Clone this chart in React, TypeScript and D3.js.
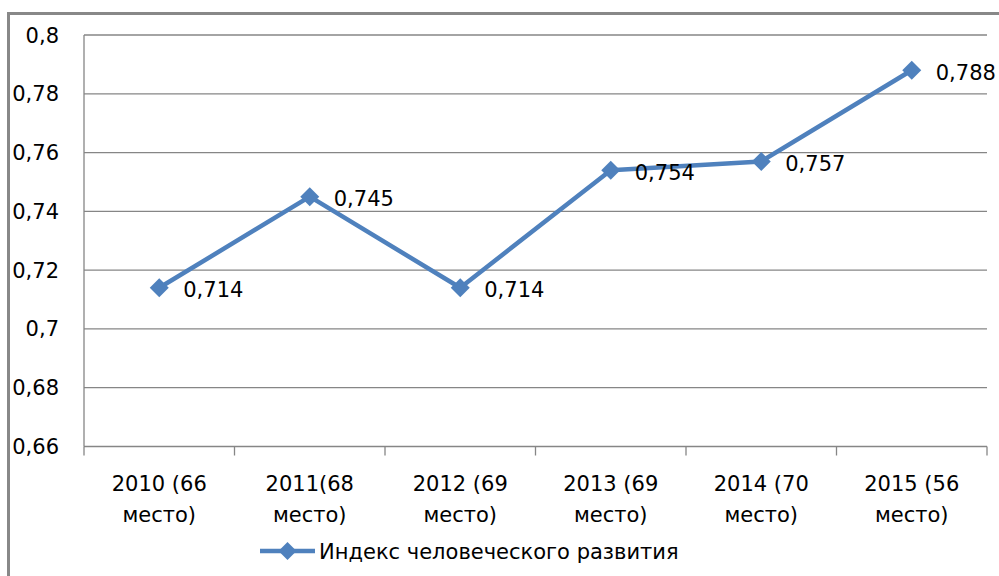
import * as d3 from "d3";

const categories = [
  ["2010 (66", "место)"],
  ["2011(68", "место)"],
  ["2012 (69", "место)"],
  ["2013 (69", "место)"],
  ["2014 (70", "место)"],
  ["2015 (56", "место)"],
];
const values = [0.714, 0.745, 0.714, 0.754, 0.757, 0.788];
const yTicks = [0.66, 0.68, 0.7, 0.72, 0.74, 0.76, 0.78, 0.8];
const seriesName = "Индекс человеческого развития";

const fmt = (v: number) => String(+v.toFixed(3)).replace(".", ",");

const App = () => {
  const width = 999;
  const height = 576;
  const left = 84;
  const right = 987;
  const top = 35;
  const bottom = 446.5;
  const color = "#4f81bd";
  const grid = "#868686";
  const font = "DejaVu Sans";

  const x = d3
    .scaleBand<number>()
    .domain(d3.range(categories.length))
    .range([left, right]);
  const y = d3.scaleLinear().domain([0.66, 0.8]).range([bottom, top]);

  const line = d3
    .line<number>()
    .x((_, i) => x(i)! + x.bandwidth() / 2)
    .y((d) => y(d));

  const diamond = (cx: number, cy: number, r: number) =>
    `M${cx},${cy - r}L${cx + r},${cy}L${cx},${cy + r}L${cx - r},${cy}Z`;

  const bounds = d3.range(categories.length + 1).map((i) =>
    i < categories.length ? x(i)! : right
  );

  return (
    <svg
      width={width}
      height={height}
      style={{ position: "absolute", left: 0, top: 0, background: "#fff" }}
      fontFamily={font}
    >
      <rect x={8.5} y={13.5} width={1100} height={700} fill="#fff" stroke="#888" strokeWidth={3} />
      {yTicks.map((t) => (
        <g key={t}>
          <line x1={left} x2={right} y1={y(t)} y2={y(t)} stroke={grid} strokeWidth={1.3} />
          <text x={59} y={y(t)} dy="0.36em" textAnchor="end" fontSize={21} fill="#000">
            {fmt(t)}
          </text>
        </g>
      ))}
      <line x1={left} x2={left} y1={top} y2={bottom} stroke={grid} strokeWidth={1.3} />
      {bounds.map((b, i) => (
        <line key={i} x1={b} x2={b} y1={bottom} y2={bottom + 9} stroke={grid} strokeWidth={1.3} />
      ))}
      {categories.map((c, i) => (
        <text key={i} textAnchor="middle" fontSize={21} fill="#000">
          <tspan x={x(i)! + x.bandwidth() / 2} y={491}>
            {c[0]}
          </tspan>
          <tspan x={x(i)! + x.bandwidth() / 2} y={522}>
            {c[1]}
          </tspan>
        </text>
      ))}
      <path d={line(values)!} fill="none" stroke={color} strokeWidth={4.5} strokeLinejoin="round" />
      {values.map((v, i) => {
        const cx = x(i)! + x.bandwidth() / 2;
        return (
          <g key={i}>
            <path d={diamond(cx, y(v), 9.5)} fill={color} />
            <text x={cx + 24} y={y(v) + 2} dy="0.36em" fontSize={21} fill="#000">
              {fmt(v)}
            </text>
          </g>
        );
      })}
      <line x1={260} x2={315} y1={551} y2={551} stroke={color} strokeWidth={4.5} />
      <path d={diamond(287.5, 551, 9)} fill={color} />
      <text x={319} y={551} dy="0.36em" fontSize={21} fill="#000">
        {seriesName}
      </text>
    </svg>
  );
};

export default App;
